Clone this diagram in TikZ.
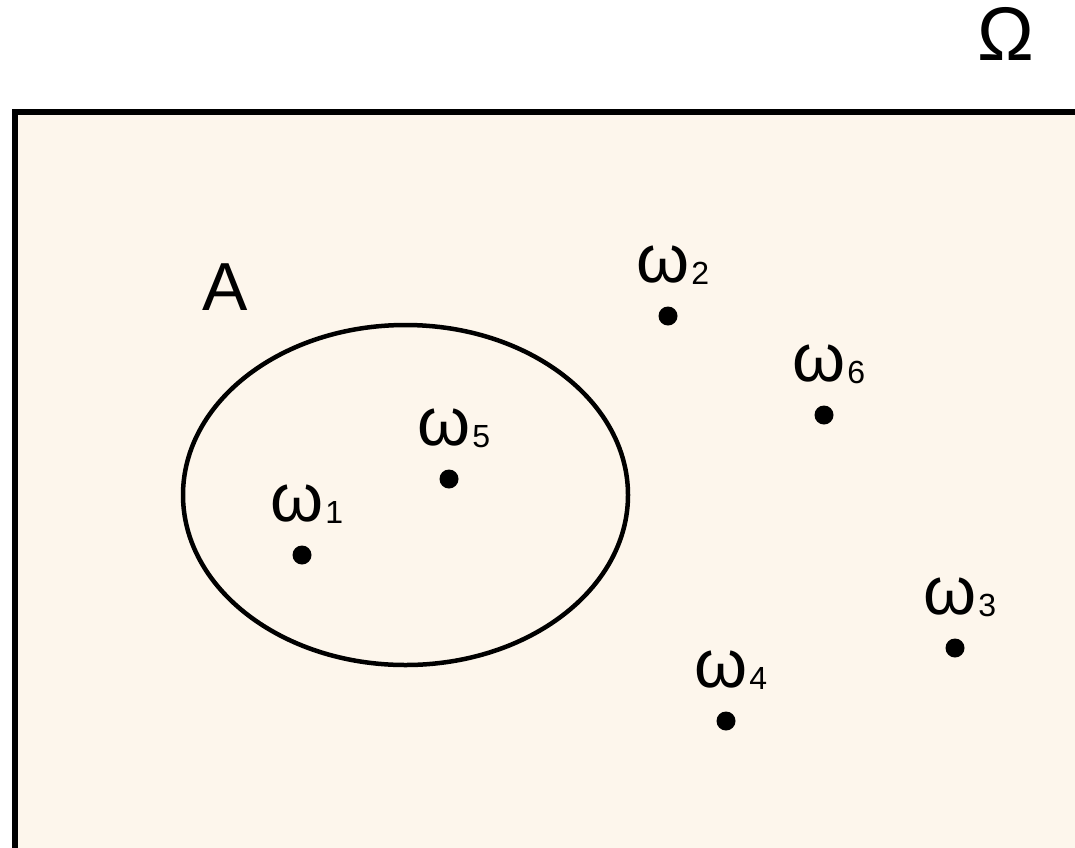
\documentclass[tikz,border=0pt]{standalone}
\usepackage{fontspec}
\setmainfont{Liberation Sans}
\usetikzlibrary{calc}
\definecolor{cream}{RGB}{253,246,236}
\newcommand{\omsub}[1]{ω\kern2pt\raisebox{-2pt}{\fontsize{32}{34}\selectfont #1}}

\begin{document}
\begin{tikzpicture}[x=1pt,y=-1pt,
  pt/.style={circle,fill=black,inner sep=0pt,minimum size=19pt},
  lab/.style={anchor=base west,inner sep=0pt,font=\fontsize{68}{72}\selectfont}]
\useasboundingbox (0,0) rectangle (1075,847);
\clip (0,0) rectangle (1075,847);
\draw[line width=6pt,fill=cream] (15,112) rectangle (1110,890);
\draw[line width=4.5pt] (405.5,495) ellipse [x radius=222.5, y radius=170];
\node[lab,font=\fontsize{76}{80}\selectfont] (om) at (977,60) {Ω};
\node[lab] (a) at (202,310) {A};
\node[pt] (w1) at (302,555) {};
\node[pt] (w2) at (668,316) {};
\node[pt] (w3) at (955,648) {};
\node[pt] (w4) at (726,721) {};
\node[pt] (w5) at (449,479) {};
\node[pt] (w6) at (824,415) {};
\node[lab] (l1) at ($(w1)+(-32,-34)$) {\omsub{1}};
\node[lab] (l2) at ($(w2)+(-32,-34)$) {\omsub{2}};
\node[lab] (l3) at ($(w3)+(-32,-34)$) {\omsub{3}};
\node[lab] (l4) at ($(w4)+(-32,-34)$) {\omsub{4}};
\node[lab] (l5) at ($(w5)+(-32,-34)$) {\omsub{5}};
\node[lab] (l6) at ($(w6)+(-32,-34)$) {\omsub{6}};
\end{tikzpicture}
\end{document}
